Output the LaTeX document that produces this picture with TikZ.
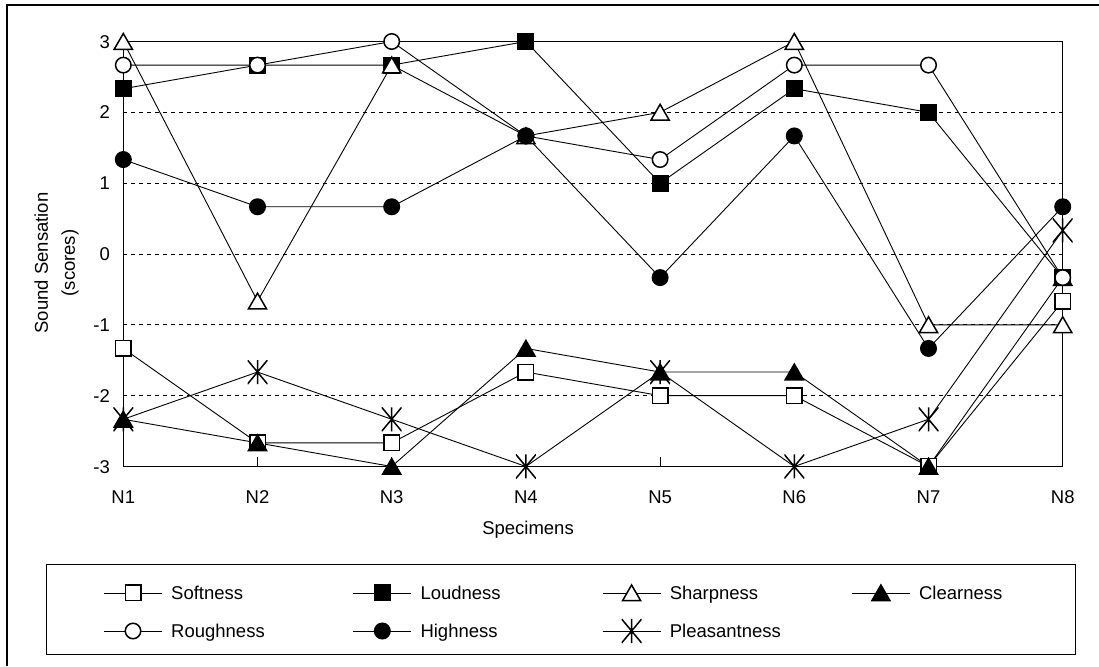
\documentclass[tikz,border=0pt]{standalone}
\usepackage{fontspec}
\setmainfont{Liberation Sans}
\usetikzlibrary{shapes.geometric}
\newcommand\mkseries[2]{\foreach \v [count=\i] in {#2}{\coordinate (#1\i) at ({123.3+134.2*(\i-1)},{412+70.83*(\v)});}}
\begin{document}
\begin{tikzpicture}[x=1pt,y=1pt,
  font=\fontsize{18.5}{27}\selectfont,
  dline/.style={line width=0.9pt},
  mk/.style={draw=black,line width=1.5pt,fill=white,inner sep=0pt,outer sep=0pt},
  msq/.style={mk,rectangle,minimum size=15.5pt},
  fsq/.style={msq,fill=black},
  mci/.style={mk,circle,minimum size=15.5pt},
  fci/.style={mci,fill=black},
  mtri/.style={mk,regular polygon,regular polygon sides=3,minimum size=21pt,yshift=-2.5pt},
  ftri/.style={mtri,fill=black},
  mstar/.style={rectangle,inner sep=0pt,minimum width=20pt,minimum height=24pt,
    path picture={\draw[line width=1.5pt] (path picture bounding box.north) -- (path picture bounding box.south)
      (path picture bounding box.north east) -- (path picture bounding box.south west)
      (path picture bounding box.north west) -- (path picture bounding box.south east);}},
  gridl/.style={line width=0.8pt,dash pattern=on 4pt off 4pt},
  lab/.style={inner sep=0pt},
]
\useasboundingbox (0,0) rectangle (1099,666);
\fill[white] (0,0) rectangle (1099,666);
% outer frame (left and top visible)
\coordinate (fa) at (7,0);
\coordinate (fb) at (7,661);
\coordinate (fc) at (1099,661);
\draw[line width=1.2pt] (fa) -- (fb) -- (fc);

% plot box
\coordinate (pbl) at (123.3,199.5);
\coordinate (ptr) at (1062.7,624.5);
\foreach \g in {-2,-1,0,1,2}{
  \coordinate (gl\g) at (123.3,{412+70.83*\g});
  \coordinate (gr\g) at (1062.7,{412+70.83*\g});
  \draw[gridl] (gl\g) -- (gr\g);
}
\draw[line width=1pt] (pbl) rectangle (ptr);
\foreach \k in {2,...,7}{
  \coordinate (tka\k) at ({123.3+134.2*(\k-1)},199.5);
  \coordinate (tkb\k) at ({123.3+134.2*(\k-1)},208.5);
  \draw[line width=0.9pt] (tka\k) -- (tkb\k);
}
% y tick labels
\foreach \g/\t in {-3/-3,-2/-2,-1/-1,0/0,1/1,2/2,3/3}{
  \node[lab,anchor=base east] (yl\g) at (110,{412+70.83*\g-6.6}) {\t};
}
% x labels
\foreach \k in {1,...,8}{
  \node[lab,anchor=base] (xl\k) at ({123.3+134.2*(\k-1)},162.4) {N\k};
}
\node[lab,anchor=base] (xtitle) at (528,131.4) {Specimens};
\node[lab,rotate=90,align=center] (ytitle) at (56.5,403) {Sound Sensation\\(scores)};

% data
\mkseries{so}{-4/3,-8/3,-8/3,-5/3,-2,-2,-3,-2/3}
\mkseries{lo}{7/3,8/3,8/3,3,1,7/3,2,-1/3}
\mkseries{sh}{3,-2/3,8/3,5/3,2,3,-1,-1}
\mkseries{cl}{-7/3,-8/3,-3,-4/3,-5/3,-5/3,-3,-1/3}
\mkseries{ro}{8/3,8/3,3,5/3,4/3,8/3,8/3,-1/3}
\mkseries{hi}{4/3,2/3,2/3,5/3,-1/3,5/3,-4/3,2/3}
\mkseries{pl}{-7/3,-5/3,-7/3,-3,-5/3,-3,-7/3,1/3}

\foreach \s in {so,lo,sh,cl,ro,hi,pl}{
  \draw[dline] (\s1) \foreach \i in {2,...,8}{ -- (\s\i)};
}
\foreach \i in {1,...,8}{\node[msq] (mso\i) at (so\i) {};}
\foreach \i in {1,...,8}{\node[fsq] (mlo\i) at (lo\i) {};}
\foreach \i in {1,...,8}{\node[mtri] (msh\i) at (sh\i) {};}
\foreach \i in {1,...,8}{\node[ftri] (mcl\i) at (cl\i) {};}
\foreach \i in {1,...,8}{\node[mci] (mro\i) at (ro\i) {};}
\foreach \i in {1,...,8}{\node[fci] (mhi\i) at (hi\i) {};}
\foreach \i in {1,...,8}{\node[mstar] (mpl\i) at (pl\i) {};}

% legend
\coordinate (lga) at (46,12);
\coordinate (lgb) at (1075,101);
\draw[line width=1pt] (lga) rectangle (lgb);
\foreach \c/\r/\st/\txt/\nm in {0/73/msq/Softness/a,1/73/fsq/Loudness/b,2/73/mtri/Sharpness/c,3/73/ftri/Clearness/d,
  0/35/mci/Roughness/e,1/35/fci/Highness/f,2/35/mstar/Pleasantness/g}{
  \coordinate (lgl\nm) at ({104+249.3*\c},\r);
  \coordinate (lgr\nm) at ({162+249.3*\c},\r);
  \draw[dline] (lgl\nm) -- (lgr\nm);
  \node[\st] (lgm\nm) at ({133+249.3*\c},\r) {};
  \node[lab,anchor=base west] (lgt\nm) at ({171+249.3*\c},{\r-6.6}) {\txt};
}
\end{tikzpicture}
\end{document}
